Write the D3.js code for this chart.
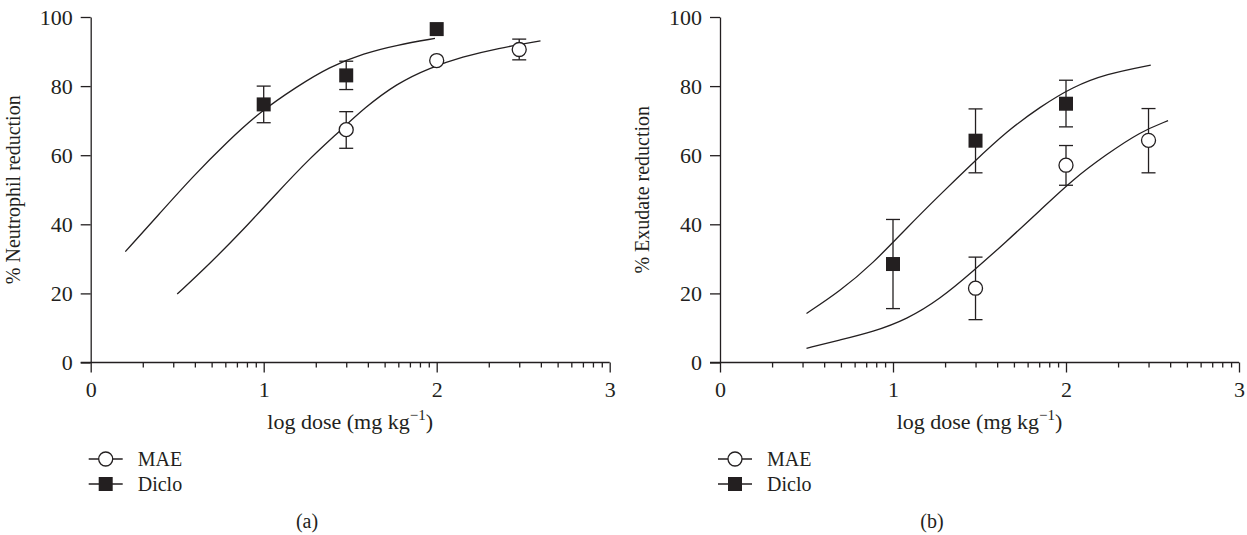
<!DOCTYPE html>
<html>
<head>
<meta charset="utf-8">
<script src="https://cdn.jsdelivr.net/npm/d3@7"></script>
<style>
body { margin: 0; background: #fff; }
svg { display: block; }
.axis path, .axis line { stroke: #231f20; stroke-width: 1.3; }
.axis text { fill: #231f20; font-family: "Liberation Serif", "DejaVu Serif", serif; font-size: 22px; }
.lbl { fill: #231f20; font-family: "Liberation Serif", "DejaVu Serif", serif; font-size: 20px; }
.xtitle { font-size: 22px; }
</style>
</head>
<body>
<div id="canvas"></div>
<script>
// ----------------------------------------------------------
// DATA -----------------------------------------------------
// ----------------------------------------------------------
var series_names = ["MAE", "Diclo"];
var y_ticks = [0, 20, 40, 60, 80, 100];
var x_tick_labels = ["0", "1", "2", "3"];

// panel (a) - % neutrophil reduction, [log dose, mean, low, high]
var a_mae = [[1.477, 67.4, 62.0, 72.6], [2, 87.4, null, null], [2.477, 90.6, 87.6, 93.6]];
var a_diclo = [[1, 74.7, 69.4, 80.0], [1.477, 83.1, 79.0, 87.2], [2, 96.5, null, null]];
// fitted curves, [log dose, %]
var a_mae_fit = [[0.50, 19.8], [0.69, 28.7], [0.88, 38.3], [1.075, 49.0], [1.27, 59.3], [1.44, 67.0],
  [1.58, 73.6], [1.77, 80.8], [1.96, 85.3], [2.15, 88.5], [2.35, 90.9], [2.60, 93.1]];
var a_diclo_fit = [[0.20, 32.1], [0.40, 43.2], [0.59, 53.8], [0.79, 63.9], [0.98, 72.6], [1.19, 79.8],
  [1.38, 85.6], [1.58, 89.5], [1.77, 91.9], [1.99, 93.8]];

// panel (b) - % exudate reduction
var b_mae = [[1.477, 21.5, 12.4, 30.5], [2, 57.1, 51.3, 62.8], [2.477, 64.3, 54.9, 73.5]];
var b_diclo = [[1, 28.5, 15.6, 41.4], [1.477, 64.2, 54.9, 73.4], [2, 74.9, 68.2, 81.7]];
var b_mae_fit = [[0.50, 4.1], [0.69, 6.5], [0.885, 8.9], [1.08, 12.5], [1.27, 18.3], [1.46, 26.3],
  [1.655, 35.0], [1.85, 44.0], [2.04, 53.0], [2.23, 60.1], [2.43, 66.8], [2.59, 70.0]];
var b_diclo_fit = [[0.50, 14.2], [0.69, 20.5], [0.885, 28.7], [1.08, 39.0], [1.27, 48.5], [1.46, 57.7],
  [1.655, 66.8], [1.85, 74.0], [2.04, 79.8], [2.23, 83.5], [2.49, 86.1]];

var settings = {
  width: 1247,
  height: 535,
  top: 17,
  bottom: 362.5,
  plot_width: 519,
  ink: "#231f20"
};

// ----------------------------------------------------------
// STRUCTURE ------------------------------------------------
// ----------------------------------------------------------
var container = d3.select("#canvas").append("svg")
  .attr("width", settings.width)
  .attr("height", settings.height)
  .style("background-color", "#fff");

var panels = [
  { left: 90.7, title: "% Neutrophil reduction", tag: "(a)", tag_x: 307, mae: a_mae, diclo: a_diclo, mae_fit: a_mae_fit, diclo_fit: a_diclo_fit },
  { left: 720, title: "% Exudate reduction", tag: "(b)", tag_x: 932, mae: b_mae, diclo: b_diclo, mae_fit: b_mae_fit, diclo_fit: b_diclo_fit }
];

// ----------------------------------------------------------
// GFX ------------------------------------------------------
// ----------------------------------------------------------
panels.forEach(function (p) {
  var g = container.append("g")
    .attr("transform", `translate(${p.left}, 0)`);

  // scales - axis is log of dose, drawn from dose 1 to 1000
  var xScale = d3.scaleLog()
    .domain([1, 1000])
    .range([0, settings.plot_width]);
  var yScale = d3.scaleLinear()
    .domain([0, 100])
    .range([settings.bottom, settings.top]);
  var xs = (lx) => xScale(Math.pow(10, lx));

  var isMajor = (d) => Math.abs(Math.log10(d) - Math.round(Math.log10(d))) < 1e-9;

  // bottom axis
  var xAxis = g.append("g")
    .attr("class", "axis")
    .attr("transform", `translate(0, ${settings.bottom})`)
    .call(d3.axisBottom(xScale)
      .tickValues(xScale.ticks())
      .tickSize(10)
      .tickSizeOuter(0)
      .tickPadding(9)
      .tickFormat((d) => isMajor(d) ? x_tick_labels[Math.round(Math.log10(d))] : ""));
  xAxis.selectAll(".tick line")
    .attr("y2", (d) => isMajor(d) ? 10 : 5);
  xAxis.select(".domain").attr("d", `M-10,0H${settings.plot_width}`);

  // left axis
  g.append("g")
    .attr("class", "axis")
    .call(d3.axisLeft(yScale)
      .tickValues(y_ticks)
      .tickSize(10)
      .tickSizeOuter(0)
      .tickPadding(8));

  // axis titles
  g.append("text")
    .attr("class", "lbl")
    .attr("transform", `translate(${-71}, ${(settings.top + settings.bottom) / 2}) rotate(-90)`)
    .attr("text-anchor", "middle")
    .text(p.title);

  var xt = g.append("text")
    .attr("class", "lbl xtitle")
    .attr("x", settings.plot_width / 2)
    .attr("y", 429)
    .attr("text-anchor", "middle");
  xt.append("tspan").text("log dose (mg kg");
  xt.append("tspan").attr("dy", -9).style("font-size", "15px").text("\u22121");
  xt.append("tspan").attr("dy", 9).text(")");

  // fitted curves
  var line = d3.line()
    .x((d) => xs(d[0]))
    .y((d) => yScale(d[1]))
    .curve(d3.curveBasis);

  [p.mae_fit, p.diclo_fit].forEach(function (fit) {
    g.append("path")
      .attr("d", line(fit))
      .attr("fill", "none")
      .attr("stroke", settings.ink)
      .attr("stroke-width", 1.3);
  });

  // error bars
  var bars = p.mae.concat(p.diclo).filter((d) => d[2] !== null);
  var eb = g.selectAll(".err")
    .data(bars)
    .enter()
    .append("g")
    .attr("class", "err")
    .attr("stroke", settings.ink)
    .attr("stroke-width", 1.3);
  eb.append("line")
    .attr("x1", (d) => xs(d[0])).attr("x2", (d) => xs(d[0]))
    .attr("y1", (d) => yScale(d[2])).attr("y2", (d) => yScale(d[3]));
  [2, 3].forEach(function (k) {
    eb.append("line")
      .attr("x1", (d) => xs(d[0]) - 7).attr("x2", (d) => xs(d[0]) + 7)
      .attr("y1", (d) => yScale(d[k])).attr("y2", (d) => yScale(d[k]));
  });

  // markers
  g.selectAll(".mae")
    .data(p.mae)
    .enter()
    .append("circle")
    .attr("cx", (d) => xs(d[0]))
    .attr("cy", (d) => yScale(d[1]))
    .attr("r", 7)
    .attr("fill", "#fff")
    .attr("stroke", settings.ink)
    .attr("stroke-width", 1.3);

  g.selectAll(".diclo")
    .data(p.diclo)
    .enter()
    .append("rect")
    .attr("x", (d) => xs(d[0]) - 7)
    .attr("y", (d) => yScale(d[1]) - 7)
    .attr("width", 14)
    .attr("height", 14)
    .attr("fill", settings.ink);

  // legend
  var legend = g.append("g")
    .attr("transform", "translate(-2, 459)");
  series_names.forEach(function (name, i) {
    var row = legend.append("g").attr("transform", `translate(0, ${i * 25})`);
    row.append("line")
      .attr("x1", 0).attr("x2", 34)
      .attr("stroke", settings.ink)
      .attr("stroke-width", 1.3);
    if (i === 0) {
      row.append("circle")
        .attr("cx", 17).attr("r", 7)
        .attr("fill", "#fff")
        .attr("stroke", settings.ink)
        .attr("stroke-width", 1.3);
    } else {
      row.append("rect")
        .attr("x", 10).attr("y", -7)
        .attr("width", 14).attr("height", 14)
        .attr("fill", settings.ink);
    }
    row.append("text")
      .attr("class", "lbl")
      .attr("x", 49)
      .attr("y", 7)
      .text(name);
  });

  // panel tag
  container.append("text")
    .attr("class", "lbl")
    .attr("x", p.tag_x)
    .attr("y", 528)
    .attr("text-anchor", "middle")
    .text(p.tag);
});
</script>
</body>
</html>
